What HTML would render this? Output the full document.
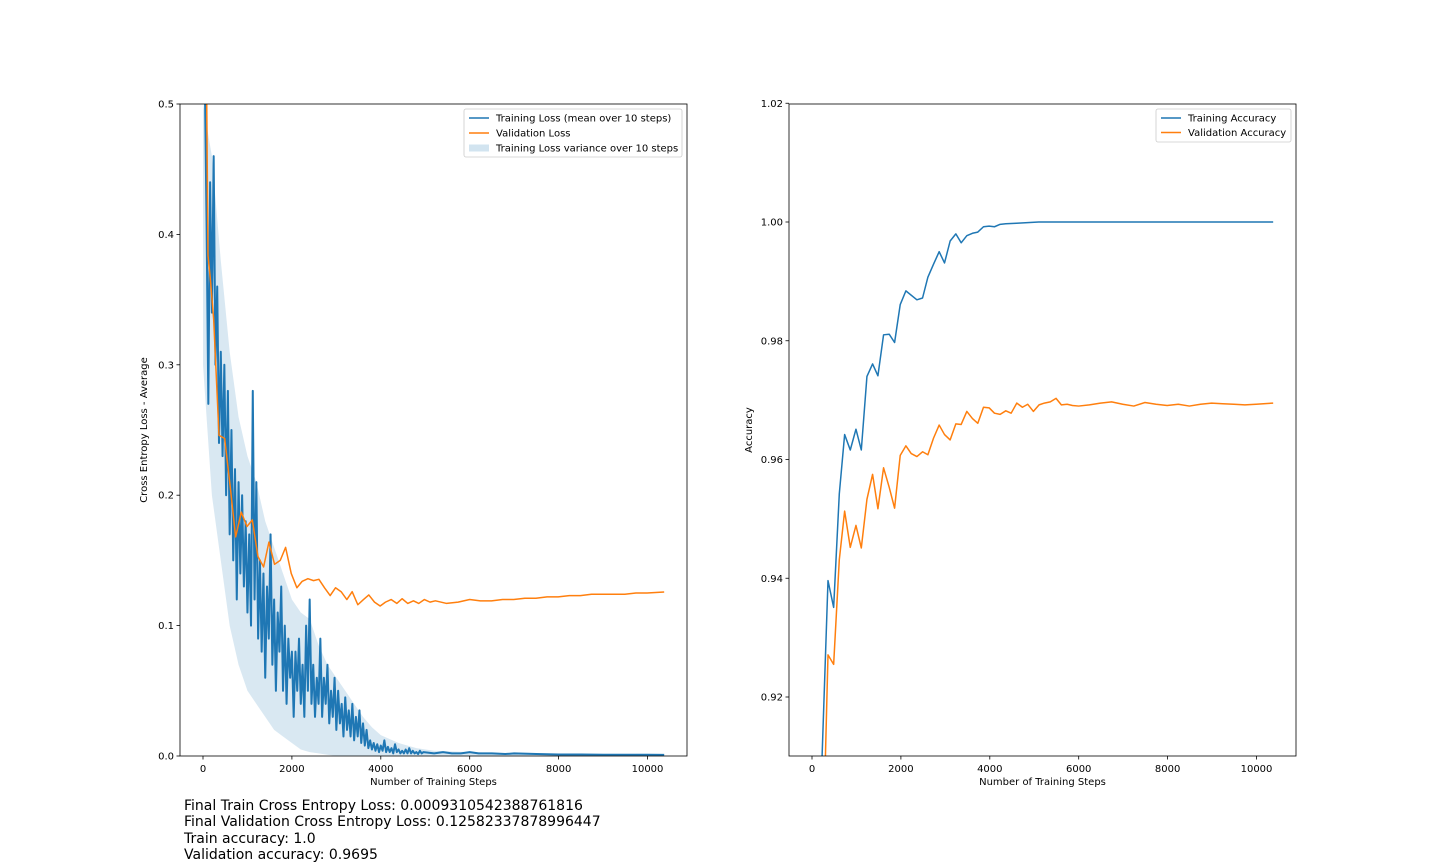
<!DOCTYPE html>
<html><head><meta charset="utf-8">
<style>
body{margin:0;background:#fff;width:1440px;height:864px;overflow:hidden;font-family:"DejaVu Sans","Liberation Sans",sans-serif;}
svg text{font-family:"DejaVu Sans","Liberation Sans",sans-serif;fill:#000;}
#summary{position:absolute;left:184px;top:798px;font-size:14px;line-height:16.4px;font-family:"DejaVu Sans","Liberation Sans",sans-serif;}
</style></head><body>
<svg id="chart" width="1440" height="864" style="position:absolute;left:0;top:0">
<defs>
<clipPath id="clipL"><rect x="180" y="104" width="507" height="652"/></clipPath>
<clipPath id="clipR"><rect x="789" y="104" width="507" height="652"/></clipPath>
</defs>
<g id="left"></g>
<g id="right"></g>
</svg>
<div id="summary">
<div>Final Train Cross Entropy Loss: 0.0009310542388761816</div>
<div>Final Validation Cross Entropy Loss: 0.12582337878996447</div>
<div>Train accuracy: 1.0</div>
<div>Validation accuracy: 0.9695</div>
</div>
<script>
// ---- data ----
const trainLossSteps=[40,80,120,160,200,240,280,320,360,400,440,480,520,560,600,640,680,720,760,800,840,880,920,960,1000,1040,1080,1120,1160,1200,1240,1280,1320,1360,1400,1440,1480,1520,1560,1600,1640,1680,1720,1760,1800,1840,1880,1920,1960,2000,2040,2080,2120,2160,2200,2240,2280,2320,2360,2400,2440,2480,2520,2560,2600,2640,2680,2720,2760,2800,2840,2880,2920,2960,3000,3040,3080,3120,3160,3200,3240,3280,3320,3360,3400,3440,3480,3520,3560,3600,3640,3680,3720,3760,3800,3840,3880,3920,3960,4000,4040,4080,4120,4160,4200,4240,4280,4320,4360,4400,4440,4480,4520,4560,4600,4640,4680,4720,4760,4800,4840,4880,4920,4960,5200,5400,5600,5800,6000,6200,6500,6800,7000,7500,8000,8500,9000,9500,10000,10375];
const trainLoss=[0.52,0.41,0.27,0.44,0.34,0.46,0.30,0.36,0.24,0.31,0.23,0.30,0.20,0.28,0.17,0.25,0.15,0.22,0.12,0.21,0.14,0.20,0.13,0.18,0.11,0.17,0.10,0.28,0.12,0.21,0.09,0.15,0.08,0.14,0.06,0.13,0.09,0.17,0.07,0.12,0.05,0.11,0.08,0.13,0.05,0.10,0.04,0.09,0.06,0.08,0.03,0.08,0.05,0.09,0.04,0.07,0.03,0.10,0.05,0.12,0.04,0.07,0.03,0.06,0.04,0.09,0.03,0.06,0.04,0.07,0.025,0.05,0.03,0.06,0.02,0.05,0.025,0.04,0.015,0.045,0.02,0.035,0.015,0.04,0.012,0.03,0.015,0.035,0.01,0.025,0.008,0.02,0.006,0.012,0.005,0.01,0.004,0.009,0.003,0.008,0.004,0.012,0.003,0.007,0.003,0.006,0.002,0.009,0.003,0.005,0.002,0.004,0.002,0.005,0.002,0.006,0.002,0.004,0.002,0.003,0.0015,0.004,0.002,0.003,0.002,0.003,0.002,0.002,0.003,0.002,0.002,0.0015,0.002,0.0015,0.0012,0.0012,0.001,0.001,0.001,0.0009];
const bandSteps=[0,200,400,600,800,1000,1200,1400,1600,1800,2000,2200,2400,2600,2800,3000,3200,3400,3600,3800,4000,4400,4800,5200,6000,7000,8000,10375];
const bandUpper=[0.5,0.46,0.38,0.31,0.26,0.23,0.21,0.18,0.16,0.14,0.12,0.11,0.105,0.085,0.07,0.06,0.05,0.04,0.03,0.022,0.016,0.01,0.006,0.004,0.003,0.002,0.0018,0.0015];
const bandLower=[0.30,0.20,0.15,0.10,0.07,0.05,0.04,0.03,0.02,0.015,0.01,0.005,0.003,0.002,0.001,0,0,0,0,0,0,0,0,0,0,0,0,0];
const valLossSteps=[60,112,165,240,360,487,614,734,861,989,1109,1236,1363,1483,1610,1738,1858,1985,2112,2232,2360,2487,2607,2734,2861,2981,3108,3236,3356,3483,3610,3730,3858,3985,4105,4232,4360,4480,4607,4734,4854,4981,5108,5228,5480,5740,6000,6240,6490,6740,6990,7240,7490,7740,7990,8240,8490,8740,8990,9240,9490,9740,9990,10375];
const valLoss=[0.60,0.384,0.366,0.335,0.246,0.2435,0.206,0.168,0.187,0.176,0.181,0.153,0.145,0.164,0.147,0.150,0.160,0.140,0.129,0.134,0.136,0.1345,0.1355,0.129,0.123,0.129,0.126,0.120,0.126,0.116,0.120,0.1235,0.118,0.115,0.118,0.120,0.117,0.1206,0.117,0.119,0.117,0.120,0.118,0.119,0.117,0.118,0.120,0.119,0.119,0.120,0.120,0.121,0.121,0.122,0.122,0.123,0.123,0.124,0.124,0.124,0.124,0.125,0.125,0.1258];
const accSteps=[225,360,487,614,734,861,989,1109,1236,1363,1483,1610,1738,1858,1985,2112,2360,2487,2607,2734,2861,2981,3108,3236,3356,3483,3610,3730,3858,3985,4105,4232,4360,4600,4850,5100,10375];
const trainAcc=[0.9096,0.9396,0.9351,0.9542,0.9642,0.9616,0.9651,0.9616,0.9740,0.9761,0.9741,0.9810,0.9811,0.9797,0.9861,0.9884,0.9869,0.9872,0.9907,0.9929,0.9950,0.9931,0.9968,0.9980,0.9965,0.9977,0.9981,0.9983,0.9992,0.9993,0.9992,0.9996,0.9997,0.9998,0.9999,1.0,1.0];
const valAccSteps=[285,360,487,614,734,861,989,1109,1236,1363,1483,1610,1738,1858,1985,2112,2232,2360,2487,2607,2734,2861,2981,3108,3236,3356,3483,3610,3730,3858,3985,4105,4232,4360,4480,4607,4734,4854,4981,5108,5228,5360,5490,5610,5740,5860,6000,6240,6490,6740,6990,7240,7490,7740,7990,8240,8490,8740,8990,9240,9490,9740,9990,10375];
const valAcc=[0.905,0.9271,0.9255,0.9431,0.9513,0.9452,0.9489,0.9451,0.9533,0.9575,0.9517,0.9586,0.9553,0.9518,0.9607,0.9623,0.9610,0.9605,0.9613,0.9608,0.9636,0.9658,0.9642,0.9633,0.9660,0.9659,0.9681,0.9669,0.9661,0.9688,0.9687,0.9678,0.9676,0.9682,0.9678,0.9695,0.9688,0.9693,0.9681,0.9692,0.9695,0.9697,0.9703,0.9692,0.9693,0.9691,0.9690,0.9692,0.9695,0.9697,0.9693,0.9690,0.9696,0.9693,0.9691,0.9693,0.9690,0.9693,0.9695,0.9694,0.9693,0.9692,0.9693,0.9695];
const xTicks=[0,2000,4000,6000,8000,10000];
const lossTicks=[0,0.1,0.2,0.3,0.4,0.5];
const lossTickLabels=["0.0","0.1","0.2","0.3","0.4","0.5"];
const accTicks=[0.92,0.94,0.96,0.98,1.00,1.02];
const accTickLabels=["0.92","0.94","0.96","0.98","1.00","1.02"];

// ---- axes ----
const NS="http://www.w3.org/2000/svg";
const BLUE="#1f77b4",ORANGE="#ff7f0e";
const xL=s=>203+s*0.04445, yL=v=>756-v*1304;
const xR=s=>812+s*0.04445, yR=v=>222+(1.0-v)*5937.5;
function mk(parent,tag,attrs){const e=document.createElementNS(NS,tag);for(const k in attrs)e.setAttribute(k,attrs[k]);parent.appendChild(e);return e;}
function pts(xs,ys,fx,fy){return xs.map((s,i)=>fx(s).toFixed(2)+","+fy(ys[i]).toFixed(2)).join(" ");}

function axes(g,x0,fx,fy,yTicks,yLabels,yTitle){
  const fr=mk(g,"rect",{x:x0,y:104,width:507,height:652,fill:"none",stroke:"#000","stroke-width":0.8});
  
  
  xTicks.forEach(t=>{
    const x=fx(t);
    const tk=mk(g,"line",{x1:x,x2:x,y1:756,y2:759.5,stroke:"#000","stroke-width":0.8});
    
    
    const tx=mk(g,"text",{x:x,y:772,"font-size":10,"text-anchor":"middle"});tx.textContent=t;
    
    
  });
  yTicks.forEach((t,i)=>{
    const y=fy(t);
    const tk=mk(g,"line",{x1:x0-3.5,x2:x0,y1:y,y2:y,stroke:"#000","stroke-width":0.8});
    
    
    const tx=mk(g,"text",{x:x0-6,y:y+3.5,"font-size":10,"text-anchor":"end"});tx.textContent=yLabels[i];
    
    
  });
  const xt=mk(g,"text",{x:x0+253.5,y:785,"font-size":10,"text-anchor":"middle"});xt.textContent="Number of Training Steps";
  
  
  const tx0=x0-(x0<500?33:37);
  const yt=mk(g,"text",{x:tx0,y:430,"font-size":10,"text-anchor":"middle",transform:`rotate(-90 ${tx0} 430)`});yt.textContent=yTitle;
  
  
}

// ---- left chart ----
const L=document.getElementById("left");
const lp=mk(L,"g",{"clip-path":"url(#clipL)"});
const bandPts=bandSteps.map((s,i)=>xL(s)+","+yL(bandUpper[i])).concat(bandSteps.slice().reverse().map((s,i)=>xL(s)+","+yL(bandLower[bandSteps.length-1-i])));
const band=mk(lp,"polygon",{points:bandPts.join(" "),fill:BLUE,"fill-opacity":0.17});


const tl=mk(lp,"polyline",{points:pts(trainLossSteps,trainLoss,xL,yL),fill:"none",stroke:BLUE,"stroke-width":2,"stroke-linejoin":"round"});


const vl=mk(lp,"polyline",{points:pts(valLossSteps,valLoss,xL,yL),fill:"none",stroke:ORANGE,"stroke-width":1.5,"stroke-linejoin":"round"});


axes(L,180,xL,yL,lossTicks,lossTickLabels,"Cross Entropy Loss - Average");
// legend
const lg=mk(L,"g",{});


mk(lg,"rect",{x:464,y:109,width:218,height:48,rx:2,fill:"#fff",stroke:"#ccc","stroke-width":0.8});
[["Training Loss (mean over 10 steps)","line",BLUE],["Validation Loss","line",ORANGE],["Training Loss variance over 10 steps","patch",BLUE]].forEach((e,i)=>{
  const y=118+i*15;
  if(e[1]==="line"){const l=mk(lg,"line",{x1:469,x2:489,y1:y,y2:y,stroke:e[2],"stroke-width":1.5});}
  else{const r=mk(lg,"rect",{x:469,y:y-3.5,width:20,height:7,fill:e[2],"fill-opacity":0.2});}
  const t=mk(lg,"text",{x:496,y:y+3.5,"font-size":10});t.textContent=e[0];
  
  
});

// ---- right chart ----
const R=document.getElementById("right");
const rp=mk(R,"g",{"clip-path":"url(#clipR)"});
const ta=mk(rp,"polyline",{points:pts(accSteps,trainAcc,xR,yR),fill:"none",stroke:BLUE,"stroke-width":1.5,"stroke-linejoin":"round"});


const va=mk(rp,"polyline",{points:pts(valAccSteps,valAcc,xR,yR),fill:"none",stroke:ORANGE,"stroke-width":1.5,"stroke-linejoin":"round"});


axes(R,789,xR,yR,accTicks,accTickLabels,"Accuracy");
const rg=mk(R,"g",{});


mk(rg,"rect",{x:1156,y:109,width:135,height:33,rx:2,fill:"#fff",stroke:"#ccc","stroke-width":0.8});
[["Training Accuracy",BLUE],["Validation Accuracy",ORANGE]].forEach((e,i)=>{
  const y=118+i*14.5;
  const l=mk(rg,"line",{x1:1161,x2:1181,y1:y,y2:y,stroke:e[1],"stroke-width":1.5});
  
  
  const t=mk(rg,"text",{x:1188,y:y+3.5,"font-size":10});t.textContent=e[0];
  
  
});
</script>
</body></html>
